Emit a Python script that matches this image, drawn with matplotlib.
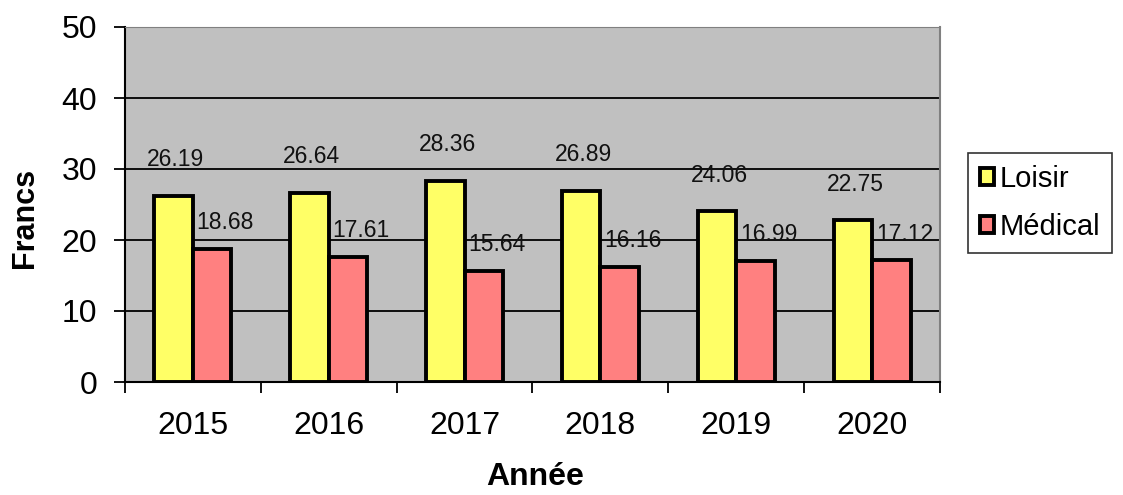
import matplotlib.pyplot as plt
import numpy as np

annees  = ['2015', '2016', '2017', '2018', '2019', '2020']
loisir  = [26.19, 26.64, 28.36, 26.89, 24.06, 22.75]
medical = [18.68, 17.61, 15.64, 16.16, 16.99, 17.12]

plt.rcParams['font.family'] = ['Liberation Sans', 'DejaVu Sans']

fig = plt.figure(figsize=(11.23, 4.95), dpi=100)
ax = fig.add_axes([125/1123, 1 - 382/495, (940 - 125)/1123, (382 - 27)/495])
ax.set_facecolor('#C0C0C0')

x = np.arange(len(annees))
w = 0.283

# gridlines behind bars
for yv in [10, 20, 30, 40]:
    ax.axhline(yv, color='black', linewidth=1.3, zorder=1)

b1 = ax.bar(x - w/2, loisir, w, color='#FFFF66', edgecolor='black', linewidth=2.8, zorder=2, label='Loisir')
b2 = ax.bar(x + w/2, medical, w, color='#FF8080', edgecolor='black', linewidth=2.8, zorder=2, label='Médical')

for xi, v in zip(x, loisir):
    ax.annotate(f'{v:.2f}', (xi - w/2, v), xytext=(1.5, 26), textcoords='offset points',
                ha='center', va='center', fontsize=16.5, color='#111111')
for xi, v in zip(x, medical):
    ax.annotate(f'{v:.2f}', (xi + w/2, v), xytext=(9.5, 19), textcoords='offset points',
                ha='center', va='center', fontsize=16.5, color='#111111')

ax.set_xlim(-0.5, len(annees) - 0.5)
ax.set_ylim(0, 50)
ax.set_yticks([0, 10, 20, 30, 40, 50])
ax.tick_params(axis='y', labelsize=23, length=8, width=1.3, pad=12, direction='out')

ax.set_xticks(x)
ax.set_xticklabels(annees)
ax.set_xticks(np.arange(-0.5, len(annees)), minor=True)
ax.tick_params(axis='x', which='major', length=0, labelsize=23, pad=21)
ax.tick_params(axis='x', which='minor', length=8, width=1.3, direction='out')

ax.spines['left'].set_linewidth(1.5)
ax.spines['bottom'].set_linewidth(1.5)
ax.spines['top'].set_color('#808080')
ax.spines['right'].set_color('#808080')
ax.spines['right'].set_linewidth(1.5)

fig.text(25/1123, 1 - 218/495, 'Francs', rotation=90, fontsize=22, fontweight='bold',
         ha='center', va='center')
fig.text(535/1123, 1 - 477/495, 'Année', fontsize=23, fontweight='bold',
         ha='center', va='center')

leg = ax.legend(handles=[b1, b2], loc='upper left', bbox_to_anchor=(968/1123, 1 - 153/495),
                bbox_transform=fig.transFigure, fontsize=21, frameon=True, fancybox=False,
                edgecolor='black', handlelength=0.5, handleheight=0.5, handletextpad=0.2,
                borderpad=0.4, labelspacing=0.7, borderaxespad=0)
leg.get_frame().set_linewidth(1.2)

fig.savefig('out.png', dpi=100)
